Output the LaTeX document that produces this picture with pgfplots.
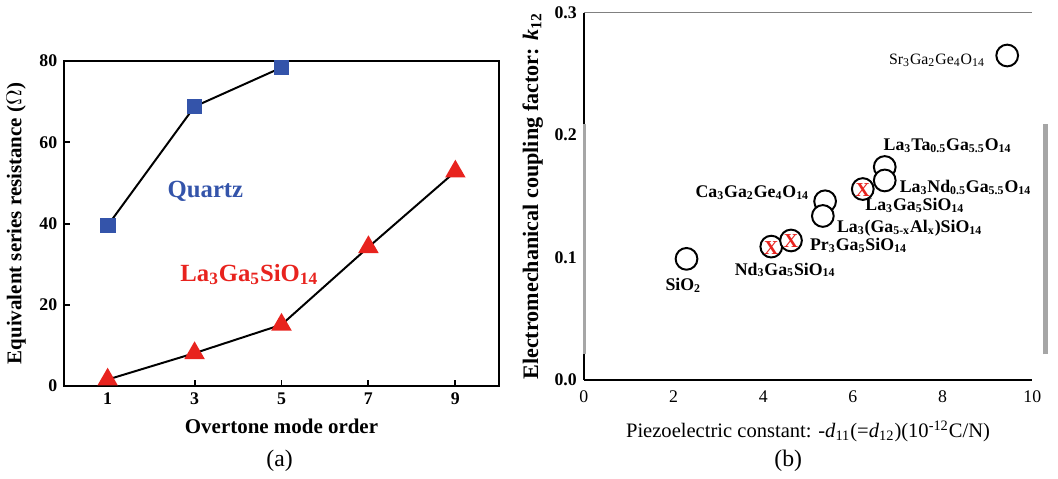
\documentclass[border=0pt]{standalone}
\usepackage{fontspec}
\setmainfont{Liberation Serif}
\usepackage{pgfplots}
\pgfplotsset{compat=1.18}

\definecolor{qblue}{RGB}{52,84,170}
\definecolor{lred}{RGB}{232,35,30}

\newcommand{\sub}[1]{\textsubscript{#1}}

\begin{document}
\begin{tikzpicture}
\path (-26pt,-43pt) rectangle (503pt,195pt);

% (a) equivalent series resistance vs overtone order
\begin{axis}[
  at={(0pt,0pt)}, anchor=south west,
  scale only axis, width=220pt, height=164.5pt,
  xmin=0, xmax=10, ymin=0, ymax=80,
  xtick={1,3,5,7,9}, ytick={0,20,40,60,80},
  xtick pos=bottom, ytick pos=left,
  tick align=inside, major tick length=3pt,
  tick style={black, line width=1pt},
  axis line style={line width=0.9pt},
  /pgf/number format/assume math mode=true,
  ticklabel style={font=\small\bfseries},
  xlabel={Overtone mode order},
  ylabel={Equivalent series resistance ($\Omega$)},
  label style={font=\fontsize{10.6}{12}\selectfont\bfseries},
  clip=false,
]
\addplot[black, line width=1pt, mark=square*, mark size=3.5pt,
  mark options={fill=qblue, draw=qblue}]
  coordinates {(1,39.5) (3,68.8) (5,78.4)};
\addplot[black, line width=1pt, mark=triangle*, mark size=5pt,
  mark options={fill=lred, draw=lred}]
  coordinates {(1,1.6) (3,8.1) (5,15.1) (7,34.2) (9,52.8)};
\node[qblue, font=\fontsize{12.5}{14}\selectfont\bfseries] at (axis cs:3.25,48) {Quartz};
\node[lred, font=\fontsize{12.5}{14}\selectfont\bfseries] at (axis cs:4.26,27.5) {La\sub{3}Ga\sub{5}SiO\sub{14}};
\end{axis}

% (b) coupling factor vs piezoelectric constant
\begin{axis}[
  at={(263pt,3pt)}, anchor=south west,
  scale only axis, width=227pt, height=186pt,
  xmin=0, xmax=10, ymin=0, ymax=0.3,
  xtick={0,2,4,6,8,10}, ytick={0,0.1,0.2,0.3},
  axis x line*=bottom, axis y line*=left,
  axis line style={-, line width=1pt},
  major tick length=0pt,
  /pgf/number format/assume math mode=true,
  yticklabel style={font=\small\bfseries, /pgf/number format/fixed,
    /pgf/number format/fixed zerofill, /pgf/number format/precision=1},
  xticklabel style={font=\small, yshift=-2pt},
  xlabel={Piezoelectric constant: -\textit{d}\sub{11}(=\textit{d}\sub{12})(10\textsuperscript{-12}C/N)},
  xlabel style={font=\fontsize{10.4}{12}\selectfont, yshift=-2pt},
  ylabel={Electromechanical coupling factor: \textit{k}\sub{12}},
  ylabel style={font=\fontsize{11.2}{13}\selectfont\bfseries, yshift=-1pt},
  clip=false,
]
\draw[gray, line width=0.8pt] (rel axis cs:0,1) -- (rel axis cs:1,1);
\draw[gray!70, line width=2.5pt] (rel axis cs:1.029,0.07) -- (rel axis cs:1.029,0.696);
\draw[gray!70, line width=1.5pt] (rel axis cs:0.002,0.07) -- (rel axis cs:0.002,0.696);
\addplot[only marks, mark=*, mark size=5.5pt,
  mark options={fill=white, draw=black, line width=1pt}]
  coordinates {(2.29,0.099) (4.18,0.109) (4.62,0.114) (5.38,0.146)
    (5.33,0.134) (6.22,0.156) (6.71,0.174) (6.71,0.163) (9.44,0.265)};
\addplot[only marks, mark=none, nodes near coords={X},
  every node near coord/.append style={anchor=center, yshift=-0.5pt,
    text=lred, font=\bfseries, inner sep=0pt}]
  coordinates {(4.18,0.109) (4.62,0.114) (6.22,0.156)};
\begin{scope}[font=\small\bfseries]
\node[anchor=east, font=\footnotesize] at (axis cs:9.1,0.261) {Sr\sub{3}Ga\sub{2}Ge\sub{4}O\sub{14}};
\node at (axis cs:8.11,0.191) {La\sub{3}Ta\sub{0.5}Ga\sub{5.5}O\sub{14}};
\node at (axis cs:8.51,0.157) {La\sub{3}Nd\sub{0.5}Ga\sub{5.5}O\sub{14}};
\node at (axis cs:7.38,0.143) {La\sub{3}Ga\sub{5}SiO\sub{14}};
\node[anchor=east] at (axis cs:5.18,0.153) {Ca\sub{3}Ga\sub{2}Ge\sub{4}O\sub{14}};
\node[anchor=west] at (axis cs:5.49,0.124) {La\sub{3}(Ga\sub{5-x}Al\sub{x})SiO\sub{14}};
\node[anchor=west] at (axis cs:4.89,0.110) {Pr\sub{3}Ga\sub{5}SiO\sub{14}};
\node at (axis cs:4.49,0.090) {Nd\sub{3}Ga\sub{5}SiO\sub{14}};
\node at (axis cs:2.22,0.077) {SiO\sub{2}};
\end{scope}
\end{axis}

\node[font=\large] at (109pt,-38pt) {(a)};
\node[font=\large] at (366.5pt,-38pt) {(b)};
\end{tikzpicture}
\end{document}
